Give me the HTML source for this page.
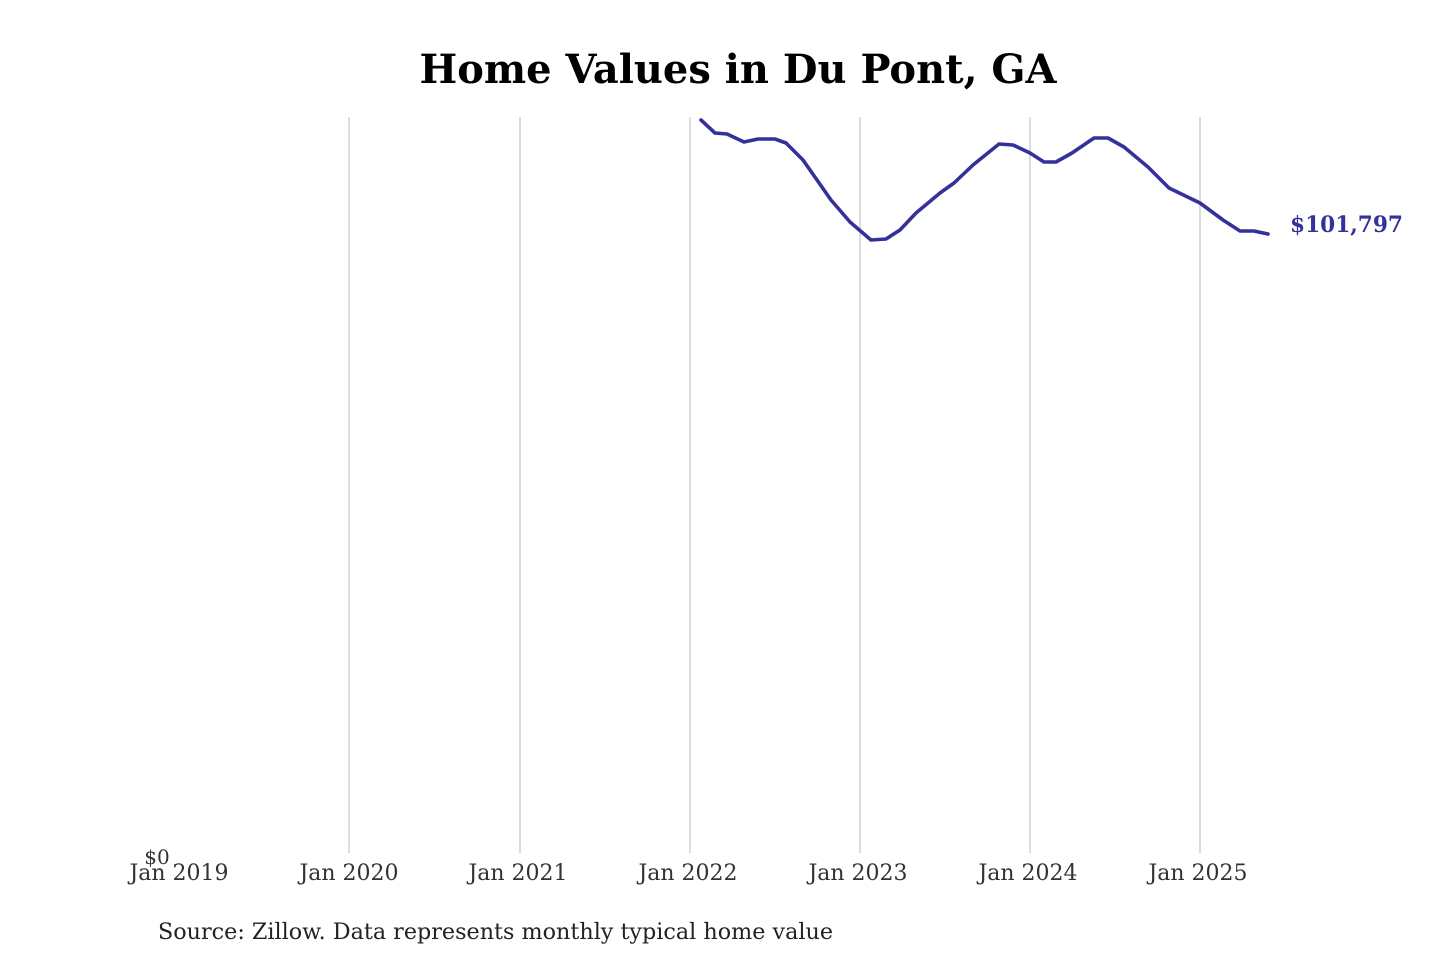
<!DOCTYPE html>
<html><head><style>
body{margin:0;background:#fff;width:1440px;height:960px;overflow:hidden;}
svg text{font-family:"DejaVu Serif","Liberation Serif",serif;}
</style></head><body>
<svg width="1440" height="960" xmlns="http://www.w3.org/2000/svg">
<text x="738" y="83" text-anchor="middle" font-size="40" font-weight="bold" fill="#000" textLength="637" lengthAdjust="spacingAndGlyphs">Home Values in Du Pont, GA</text>
<g stroke="#c4c4c4" stroke-width="1.2">
<line x1="349" y1="117" x2="349" y2="853"/>
<line x1="520" y1="117" x2="520" y2="853"/>
<line x1="690" y1="117" x2="690" y2="853"/>
<line x1="860" y1="117" x2="860" y2="853"/>
<line x1="1030" y1="117" x2="1030" y2="853"/>
<line x1="1200" y1="117" x2="1200" y2="853"/>
</g>
<polyline fill="none" stroke="#34319a" stroke-width="3.6" stroke-linejoin="round" stroke-linecap="round" points="701,120 715,133 727,134 744,142 758,139 775,139 786,143 803,160 831,200 850,222 871,240 886,239 900,230 916,213 940,193 954,183 973,165 999,144 1013,145 1030,153 1044,162 1056,162 1072,153 1094,138 1108,138 1124,147 1148,167 1169,188 1200,203 1223,220 1240,231 1254,231 1268,234"/>
<text x="1290" y="232" font-size="22" font-weight="bold" fill="#34319a" textLength="113" lengthAdjust="spacingAndGlyphs">$101,797</text>
<text x="157" y="864" text-anchor="middle" font-size="20" fill="#333">$0</text>
<g font-size="22" fill="#333" text-anchor="middle">
<text x="179" y="880">Jan 2019</text>
<text x="349" y="880">Jan 2020</text>
<text x="518" y="880">Jan 2021</text>
<text x="688" y="880">Jan 2022</text>
<text x="858" y="880">Jan 2023</text>
<text x="1028" y="880">Jan 2024</text>
<text x="1198" y="880">Jan 2025</text>
</g>
<text x="158" y="939" font-size="22" fill="#222" textLength="675" lengthAdjust="spacingAndGlyphs">Source: Zillow. Data represents monthly typical home value</text>
</svg>
</body></html>
